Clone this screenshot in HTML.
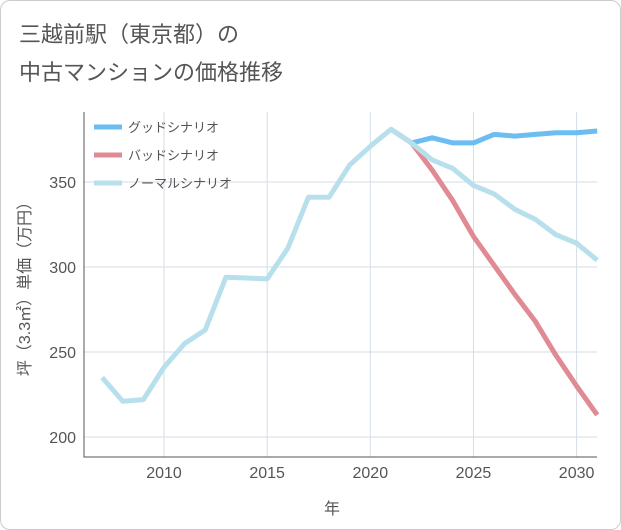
<!DOCTYPE html>
<html><head><meta charset="utf-8"><style>
body{margin:0;background:#fff;font-family:"Liberation Sans","Noto Sans CJK JP",sans-serif;}
#wrap{position:relative;width:619px;height:528px;border:1px solid #ccc;border-radius:10px;overflow:hidden;}
.title{position:absolute;left:18px;font-size:22px;color:#555;}
</style></head><body>
<div id="wrap">
<div class="title" style="top:16px">三越前駅（東京都）の</div>
<div class="title" style="top:54px">中古マンションの価格推移</div>
<svg id="chart" width="621" height="530" style="position:absolute;left:-1px;top:-1px"></svg>
</div>
<script>
const years=[2007,2008,2009,2010,2011,2012,2013,2014,2015,2016,2017,2018,2019,2020,2021,2022,2023,2024,2025,2026,2027,2028,2029,2030,2031];
const normalVals=[235,221,222,241,255,263,294,293.5,293,311,341,341,360,371,381,373,363,358,348,343,334,328,319,314,304];
const goodYears=[2021,2022,2023,2024,2025,2026,2027,2028,2029,2030,2031];
const goodVals=[381,373,376,373,373,378,377,378,379,379,380];
const badVals=[381,373,357,339,318,301,284,268,248,230,213];
const xTicks=[2010,2015,2020,2025,2030];
const yTicks=[200,250,300,350];
const NS="http://www.w3.org/2000/svg";
const svg=document.getElementById('chart');
const L=84,R=597,T=112,B=457;
function x(yr){return 164+(yr-2010)*20.63;}
function y(v){return 437-(v-200)*1.7;}
function el(tag,attrs,parent){const e=document.createElementNS(NS,tag);for(const k in attrs)e.setAttribute(k,attrs[k]);(parent||svg).appendChild(e);return e;}
xTicks.forEach(t=>{
 const g=el('line',{x1:x(t),x2:x(t),y1:T,y2:B,stroke:'#d5dde6','stroke-width':1});
 
 
 const tx=el('text',{x:x(t),y:478,'text-anchor':'middle','font-size':16,fill:'#555'});tx.textContent=t;
 
 
});
yTicks.forEach(t=>{
 const g=el('line',{x1:L,x2:R,y1:y(t),y2:y(t),stroke:'#d5dde6','stroke-width':1});
 
 
 const tx=el('text',{x:76,y:y(t)+6,'text-anchor':'end','font-size':16,fill:'#555'});tx.textContent=t;
 
 
});
const ax=el('path',{d:`M${L} ${T}V${B}H${R}`,fill:'none',stroke:'#555','stroke-width':1});


function line(xs,vs,color,name){
 const p=el('polyline',{points:xs.map((yr,i)=>x(yr)+','+y(vs[i])).join(' '),fill:'none',stroke:color,'stroke-width':5,'stroke-linejoin':'round'});
 
 
}
line(goodYears,goodVals,'#6bbdf2','good-scenario-line');
line(goodYears,badVals,'#e08a93','bad-scenario-line');
line(years,normalVals,'#b8e0ec','normal-scenario-line');
const leg=[['グッドシナリオ','#6bbdf2'],['バッドシナリオ','#e08a93'],['ノーマルシナリオ','#b8e0ec']];
leg.forEach((d,i)=>{
 const yy=127+i*28;
 const g=el('g',{});
 
 
 el('line',{x1:94,x2:122,y1:yy,y2:yy,stroke:d[1],'stroke-width':5},g);
 const t=el('text',{x:128,y:yy+5,'font-size':13,fill:'#555'},g);t.textContent=d[0];
});
const yl=el('text',{transform:'translate(30,285) rotate(-90)','text-anchor':'middle','font-size':16,fill:'#555'});
yl.textContent='坪（3.3㎡）単価（万円）';


const xl=el('text',{x:332,y:514,'text-anchor':'middle','font-size':16,fill:'#555'});
xl.textContent='年';


</script>
</body></html>
